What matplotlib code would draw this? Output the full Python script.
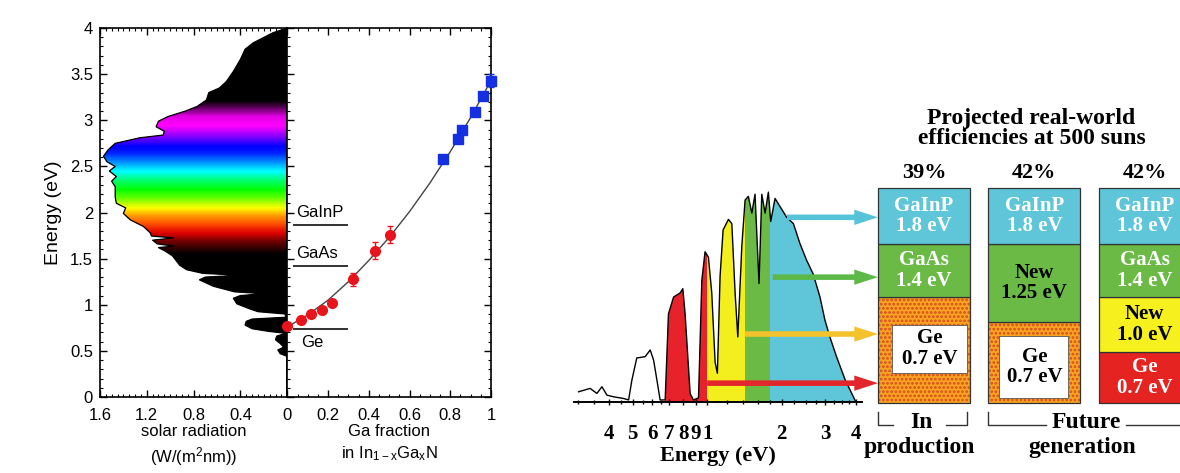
import numpy as np
import matplotlib
matplotlib.use("Agg")
import matplotlib.pyplot as plt
from matplotlib.colors import LinearSegmentedColormap
from matplotlib.patches import Polygon, Rectangle
from matplotlib.ticker import MultipleLocator, FixedLocator, NullFormatter
import matplotlib.transforms as mtransforms

plt.rcParams['font.family'] = ['Liberation Sans', 'DejaVu Sans']
plt.rcParams['mathtext.default'] = 'regular'
plt.rcParams['hatch.linewidth'] = 1.3

# ---------------- data ----------------
# left: solar radiation (W/(m^2 nm)) versus photon energy (eV)
solar_energy = [0.0, 0.44, 0.47, 0.51, 0.54, 0.58, 0.62, 0.66, 0.69, 0.71, 0.74, 0.78,
                0.82, 0.845, 0.865, 0.90, 0.925, 0.96, 1.01, 1.07, 1.10, 1.12, 1.14,
                1.20, 1.27, 1.30, 1.32, 1.34, 1.38, 1.43, 1.48, 1.53, 1.58, 1.62, 1.635,
                1.66, 1.70, 1.725, 1.745, 1.78, 1.85, 1.92, 1.99, 2.05, 2.10, 2.17, 2.28,
                2.34, 2.39, 2.45, 2.50, 2.55, 2.61, 2.68, 2.75, 2.81, 2.84, 2.88, 2.93,
                2.99, 3.04, 3.10, 3.15, 3.22, 3.30, 3.35, 3.42, 3.53, 3.66, 3.77, 3.84,
                3.95, 4.0]
solar_radiation = [0.0, 0.0, 0.06, 0.08, 0.03, 0.06, 0.10, 0.09, 0.01, 0.15, 0.30, 0.36,
                   0.35, 0.30, 0.01, 0.02, 0.25, 0.33, 0.43, 0.46, 0.40, 0.20, 0.45,
                   0.63, 0.75, 0.70, 0.40, 0.72, 0.86, 0.92, 0.95, 0.98, 1.04, 1.10, 0.97,
                   1.11, 1.15, 0.97, 1.16, 1.17, 1.23, 1.34, 1.40, 1.38, 1.46, 1.47, 1.47,
                   1.50, 1.46, 1.52, 1.47, 1.54, 1.57, 1.53, 1.47, 1.26, 1.06, 1.05, 1.12,
                   1.10, 1.02, 0.87, 0.77, 0.69, 0.67, 0.58, 0.52, 0.46, 0.40, 0.36, 0.29,
                   0.12, 0.0]

# middle: InGaN band gap versus Ga fraction
ga_frac_red = [0.0, 0.066, 0.115, 0.172, 0.22, 0.32, 0.43, 0.505]
gap_red = [0.77, 0.84, 0.905, 0.94, 1.02, 1.275, 1.585, 1.76]
err_red = [0.02, 0.02, 0.02, 0.02, 0.02, 0.07, 0.09, 0.09]
ga_frac_blue = [0.764, 0.836, 0.856, 0.923, 0.96, 1.0]
gap_blue = [2.58, 2.795, 2.89, 3.09, 3.26, 3.43]
err_blue = [0.03, 0.03, 0.03, 0.03, 0.03, 0.07]
fit_frac = [0.0, 0.1, 0.2, 0.3, 0.4, 0.5, 0.6, 0.7, 0.8, 0.9, 1.0]
fit_gap = [0.76, 0.89, 1.05, 1.25, 1.48, 1.73, 2.01, 2.32, 2.66, 3.03, 3.43]
ref_names = ['GaInP', 'GaAs', 'Ge']
ref_gaps = [1.865, 1.42, 0.735]

# right: solar spectrum (relative) versus energy, log scale
spec_energy = [0.303, 0.337, 0.359, 0.376, 0.394, 0.419, 0.46, 0.482, 0.497, 0.52, 0.562,
               0.589, 0.608, 0.627, 0.646, 0.677, 0.698, 0.732, 0.778, 0.798, 0.815,
               0.854, 0.881, 0.923, 0.952, 0.981, 1.012, 1.044, 1.077, 1.10, 1.128, 1.16,
               1.219, 1.258, 1.297, 1.33, 1.38, 1.423, 1.467, 1.515, 1.561, 1.62, 1.662,
               1.714, 1.767, 1.806, 1.88, 2.095, 2.23, 2.37, 2.52, 2.68, 2.855, 2.99,
               3.13, 3.33, 3.61, 3.95, 4.0]
spec_level = [0.049, 0.065, 0.041, 0.073, 0.033, 0.025, 0.017, 0.01, 0.105, 0.21, 0.216,
              0.248, 0.2, 0.105, 0.01, 0.01, 0.42, 0.50, 0.52, 0.54, 0.42,
              0.04, 0.01, 0.02, 0.58, 0.716, 0.69, 0.52, 0.19, 0.137, 0.6, 0.82,
              0.87, 0.85, 0.52, 0.31, 0.74, 0.962, 0.98, 0.90, 0.99, 0.565, 0.99,
              0.90, 1.0, 0.86, 0.97, 0.88, 0.85, 0.755, 0.676, 0.61, 0.50, 0.39,
              0.31, 0.216, 0.105, 0.01, 0.0]
band_edges = [0.677, 1.0, 1.42, 1.8, 4.0]
band_colors = ['#e8222a', '#f3ee1e', '#6cba46', '#5ec6d8']
tick_energy = [0.4, 0.5, 0.6, 0.7, 0.8, 0.9, 1, 2, 3, 4]
tick_text = ['4', '5', '6', '7', '8', '9', '1', '2', '3', '4']
arrow_start = [2.1, 1.84, 1.42, 1.0]
arrow_level = [0.88, 0.595, 0.324, 0.09]
arrow_colors = ['#55c3d8', '#5cb947', '#f3c22c', '#e3262b']

# cell stacks
efficiency = ['39%', '42%', '42%']
stack1 = ['Ge\n0.7 eV', 'GaAs\n1.4 eV', 'GaInP\n1.8 eV']
stack2 = ['Ge\n0.7 eV', 'New\n1.25 eV', 'GaInP\n1.8 eV']
stack3 = ['Ge\n0.7 eV', 'New\n1.0 eV', 'GaAs\n1.4 eV', 'GaInP\n1.8 eV']
stack1_kind = ['ge', 'green', 'cyan']
stack2_kind = ['ge', 'green', 'cyan']
stack3_kind = ['red', 'yellow', 'green', 'cyan']

# ---------------- figure ----------------
fig = plt.figure(figsize=(11.8, 4.73), dpi=100)
ax1 = fig.add_axes([0.0847, 0.1607, 0.1587, 0.780])
ax2 = fig.add_axes([0.2435, 0.1607, 0.1726, 0.780])
ax3 = fig.add_axes([0.4864, 0.150, 0.2437, 0.466])
ax4 = fig.add_axes([0.744, 0.148, 0.2651, 0.4545])

# --- left panel: rainbow solar spectrum
stops = [(0, 'black'), (1.55, 'black'), (1.68, '#6a0000'), (1.78, '#e00000'), (1.88, '#ff5000'),
         (1.97, '#ffa000'), (2.05, '#ffff00'), (2.15, '#70ff00'), (2.25, '#00ff00'),
         (2.35, '#00ff70'), (2.45, '#00ffff'), (2.55, '#0090ff'), (2.65, '#0020ff'),
         (2.72, '#0000ff'), (2.8, '#6000ff'), (2.88, '#c000ff'), (2.95, '#ff00ff'),
         (3.05, '#e000e0'), (3.15, '#500050'), (3.22, 'black'), (4, 'black')]
cmap = LinearSegmentedColormap.from_list('rainbow_sun', [(p / 4.0, c) for p, c in stops])
verts = np.column_stack([np.r_[0, solar_radiation, 0], np.r_[0, solar_energy, 4]])
poly = Polygon(verts, closed=True, facecolor='black', edgecolor='none', zorder=0.5)
ax1.add_patch(poly)
grad = np.linspace(0, 4, 800).reshape(-1, 1)
im = ax1.imshow(grad, extent=(1.6, 0, 0, 4), origin='lower', aspect='auto', cmap=cmap,
                vmin=0, vmax=4, interpolation='bilinear', zorder=1.5)
im.set_clip_path(poly)
ax1.plot(solar_radiation, solar_energy, color='black', lw=0.9, zorder=3)
ax1.set_xlim(1.6, 0)
ax1.set_ylim(0, 4)
ax1.set_xticks([1.6, 1.2, 0.8, 0.4, 0])
ax1.set_xticklabels(['1.6', '1.2', '0.8', '0.4', ''])
ax1.set_yticks([0, 0.5, 1, 1.5, 2, 2.5, 3, 3.5, 4])
ax1.set_yticklabels(['0', '0.5', '1', '1.5', '2', '2.5', '3', '3.5', '4'])
ax1.xaxis.set_minor_locator(MultipleLocator(0.05))
ax1.yaxis.set_minor_locator(MultipleLocator(0.1))
ax1.tick_params(which='both', direction='in', top=True, right=False, labelsize=12)
ax1.tick_params(axis='x', pad=8)
ax1.tick_params(axis='y', pad=5)
ax1.tick_params(which='major', length=5, width=1)
ax1.tick_params(which='minor', length=2.5, width=0.8)
ax1.set_ylabel('Energy (eV)', fontsize=14, labelpad=6)
ax1.set_xlabel('solar radiation\n(W/(m$^2$nm))', fontsize=12, linespacing=1.35, labelpad=1)
for s in ax1.spines.values():
    s.set_linewidth(1.2)

# --- middle panel: InGaN band gap
ax2.plot(fit_frac, fit_gap, color='#444444', lw=1.0, zorder=2)
ax2.errorbar(ga_frac_red, gap_red, yerr=err_red, fmt='o', color='#e8141c', ms=7,
             ecolor='#e8141c', elinewidth=1, capsize=2.5, zorder=3, clip_on=False)
ax2.errorbar(ga_frac_blue, gap_blue, yerr=err_blue, fmt='s', color='#1530e0', ms=7,
             ecolor='#1530e0', elinewidth=1, capsize=2.5, zorder=3, clip_on=False)
ax2.hlines(ref_gaps, 0.03, 0.30, color='#222222', lw=1.3)
for name, g in zip(ref_names, ref_gaps):
    if name == 'Ge':
        ax2.text(0.07, g - 0.06, name, fontsize=12, va='top', ha='left')
    else:
        ax2.text(0.045, g + 0.05, name, fontsize=12, va='bottom', ha='left')
ax2.set_xlim(0, 1.0)
ax2.set_ylim(0, 4)
ax2.set_xticks([0, 0.2, 0.4, 0.6, 0.8, 1.0])
ax2.set_xticklabels(['0', '0.2', '0.4', '0.6', '0.8', '1'])
ax2.set_yticks([0, 0.5, 1, 1.5, 2, 2.5, 3, 3.5, 4])
ax2.yaxis.set_major_formatter(NullFormatter())
ax2.xaxis.set_minor_locator(MultipleLocator(0.05))
ax2.yaxis.set_minor_locator(MultipleLocator(0.1))
ax2.tick_params(which='both', direction='in', top=True, right=True, left=True, labelsize=12)
ax2.tick_params(axis='x', pad=8)
ax2.tick_params(which='major', length=5, width=1)
ax2.tick_params(which='minor', length=2.5, width=0.8)
ax2.set_xlabel('Ga fraction\nin In$_{1-x}$Ga$_x$N', fontsize=12, linespacing=1.35, labelpad=1)
for s in ax2.spines.values():
    s.set_linewidth(1.2)

# --- right: spectrum with sub-cell bands
serif = ['Liberation Serif', 'DejaVu Serif']
ax3.set_xscale('log')
spoly = Polygon(np.column_stack([np.r_[spec_energy[0], spec_energy, spec_energy[-1]],
                                 np.r_[0, spec_level, 0]]),
                closed=True, facecolor='none', edgecolor='none')
ax3.add_patch(spoly)
for lo, hi, c in zip(band_edges[:-1], band_edges[1:], band_colors):
    span = ax3.axvspan(lo, hi, color=c, lw=0, zorder=1)
    span.set_clip_path(spoly)
ax3.plot(spec_energy, spec_level, color='black', lw=1.0, zorder=3)
ax3.set_xlim(0.29, 4.2)
ax3.set_ylim(0, 1.05)
for side in ['left', 'right', 'top']:
    ax3.spines[side].set_visible(False)
ax3.spines['bottom'].set_linewidth(1.4)
ax3.yaxis.set_visible(False)
ax3.xaxis.set_major_locator(FixedLocator(tick_energy))
ax3.set_xticklabels(tick_text)
ax3.xaxis.set_minor_locator(FixedLocator([0.3, 0.35, 0.45, 0.55, 0.65, 1.2, 1.4, 1.6, 1.8,
                                          2.25, 2.5, 2.75, 3.25, 3.5, 3.75]))
ax3.xaxis.set_minor_formatter(NullFormatter())
ax3.tick_params(which='both', direction='inout', length=4, width=1, pad=14)
ax3.tick_params(which='minor', length=3)
for lab in ax3.get_xticklabels():
    lab.set_fontfamily(serif)
    lab.set_fontweight('bold')
    lab.set_fontsize(15)
ax3.set_xlabel('Energy (eV)', fontsize=16, fontweight='bold', family=serif, labelpad=1)
ax3.patch.set_alpha(0)

# --- stacks
ax4.set_xlim(0, 3.4)
ax4.set_ylim(0, 1)
ax4.axis('off')
fills = {'cyan': '#5ec6d8', 'green': '#6cba46', 'yellow': '#f6f01e', 'red': '#e52421'}
tcolor = {'cyan': 'white', 'green': 'white', 'yellow': 'black', 'red': 'white', 'ge': 'black'}
col_x = [0.0, 1.2, 2.4]
col_bounds = [[0, 0.493, 0.74, 1.0], [0, 0.377, 0.74, 1.0], [0, 0.237, 0.493, 0.74, 1.0]]
inner = [(0.15, 0.14, 0.82, 0.225), (0.12, 0.025, 0.75, 0.285)]
stacks = [stack1, stack2, stack3]
kinds = [stack1_kind, stack2_kind, stack3_kind]
for ci, (x0, bounds, labels, kk) in enumerate(zip(col_x, col_bounds, stacks, kinds)):
    for li, (lab, kind) in enumerate(zip(labels, kk)):
        y0, y1 = bounds[li], bounds[li + 1]
        if kind == 'ge':
            ax4.add_patch(Rectangle((x0, y0), 1, y1 - y0, facecolor='#f7a423',
                                    edgecolor='#d84a1c', hatch='....', lw=0, clip_on=False))
            ix, iy, iw, ih = inner[ci]
            ax4.add_patch(Rectangle((x0 + ix, y0 + iy), iw, ih, facecolor='white',
                                    edgecolor='#555555', lw=0.6, clip_on=False))
            ty = y0 + iy + ih / 2
        else:
            ax4.add_patch(Rectangle((x0, y0), 1, y1 - y0, facecolor=fills[kind],
                                    edgecolor='none', clip_on=False))
            ty = (y0 + y1) / 2
        txt_col = 'black' if (kind == 'ge' or lab.startswith('New')) else tcolor[kind]
        ax4.text(x0 + 0.5 + (0.06 if kind == 'ge' and ci == 0 else 0), ty, lab,
                 ha='center', va='center', fontsize=15, fontweight='bold', family=serif,
                 color=txt_col, linespacing=1.05, clip_on=False)
        ax4.add_patch(Rectangle((x0, y0), 1, y1 - y0, facecolor='none',
                                edgecolor='#333333', lw=0.9, clip_on=False))
    ax4.text(x0 + 0.5, 1.07, efficiency[ci], ha='center', va='center', fontsize=16,
             fontweight='bold', family=serif)

ax4.text(1.67, 1.275, 'Projected real-world\nefficiencies at 500 suns', ha='center',
         va='center', fontsize=17, fontweight='bold', family=serif, linespacing=0.95)
# brackets
kw = dict(color='#333333', lw=1.0, clip_on=False)
ax4.plot([0, 0, 0.16], [-0.042, -0.102, -0.102], **kw)
ax4.plot([0.74, 0.967, 0.967], [-0.102, -0.102, -0.042], **kw)
ax4.plot([1.2, 1.2, 1.83], [-0.042, -0.102, -0.102], **kw)
ax4.plot([2.7, 3.4], [-0.102, -0.102], **kw)
ax4.text(0.47, -0.093, 'In', ha='center', va='center', fontsize=17, fontweight='bold', family=serif)
ax4.text(0.45, -0.209, 'production', ha='center', va='center', fontsize=17, fontweight='bold', family=serif)
ax4.text(2.27, -0.093, 'Future', ha='center', va='center', fontsize=17, fontweight='bold', family=serif)
ax4.text(2.22, -0.209, 'generation', ha='center', va='center', fontsize=17, fontweight='bold', family=serif)

# arrows from spectrum bands to the stack
blend = mtransforms.blended_transform_factory(ax4.transData, ax3.transData)
for e0, lv, c in zip(arrow_start, arrow_level, arrow_colors):
    ax3.annotate('', xy=(0, lv), xycoords=blend, xytext=(e0, lv), textcoords='data',
                 arrowprops=dict(arrowstyle='simple,head_length=17,head_width=11,tail_width=4',
                                 mutation_scale=1, color=c, lw=0, shrinkA=0, shrinkB=0),
                 zorder=5)

fig.savefig('out.png', dpi=100)
